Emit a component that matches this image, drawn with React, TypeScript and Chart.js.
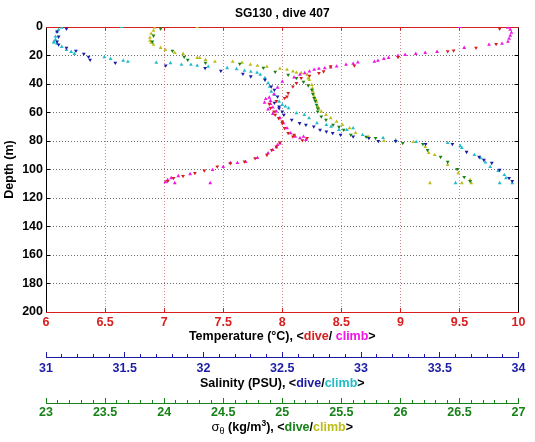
import React, { useEffect, useRef } from 'react';
import { Chart, registerables } from 'chart.js';

Chart.register(...registerables);

const FONT = "'Liberation Sans', Arial, Helvetica, sans-serif";
const RED = '#d81e1e';
const MAGENTA = '#f014e6';
const BLUE = '#1c1ca6';
const CYAN = '#20bcc8';
const GREEN = '#178217';
const YELLOW = '#bdbd17';
const BLACK = '#000000';

const TITLE = 'SG130 , dive 407';
const Y_TITLE = 'Depth (m)';

// Tick values
const depthTicks = [0, 20, 40, 60, 80, 100, 120, 140, 160, 180, 200];
const tempTicks = [6, 6.5, 7, 7.5, 8, 8.5, 9, 9.5, 10];
const salTicks = [31, 31.5, 32, 32.5, 33, 33.5, 34];
const denTicks = [23, 23.5, 24, 24.5, 25, 25.5, 26, 26.5, 27];

// Temperature (°C) — dive
const tempDiveDepth = [1.2, 12.0, 14.6, 16.5, 17.0, 21.1, 27.0, 27.7, 31.2, 32.3, 34.2, 35.9, 39.4, 41.8, 46.4, 48.8, 49.9, 52.0, 54.0, 56.8, 59.4, 61.7, 64.0, 66.4, 67.5, 71.0, 74.5, 75.7, 76.9, 77.9, 79.5, 81.1, 84.0, 86.3, 89.8, 92.1, 94.5, 95.6, 98.0, 100.8, 102.5, 104.6, 106.0, 108.1];
const tempDive = [9.84, 9.81, 9.64, 9.45, 9.40, 8.98, 8.61, 8.41, 8.35, 8.31, 8.23, 8.16, 8.12, 8.09, 8.05, 8.04, 8.02, 7.95, 7.89, 7.90, 7.93, 7.94, 7.97, 8.00, 8.00, 8.02, 8.05, 8.10, 8.09, 8.21, 8.17, 7.98, 7.95, 7.91, 7.87, 7.77, 7.68, 7.56, 7.45, 7.34, 7.26, 7.16, 7.08, 7.03];

// Temperature (°C) — climb
const tempClimbDepth = [0, 0.5, 1.9, 4.0, 6.1, 8.2, 10.3, 11.7, 12.4, 14.6, 17.4, 18.1, 18.8, 19.5, 20.2, 21.6, 22.3, 23.7, 24.4, 24.9, 25.8, 26.5, 27.7, 28.4, 28.9, 29.3, 30.0, 31.2, 32.3, 33.5, 35.4, 38.3, 42.5, 47.1, 49.5, 50.5, 51.8, 53.0, 54.0, 56.5, 57.8, 59.3, 61.0, 63.9, 67.5, 71.0, 74.5, 76.9, 78.0, 76.9, 79.3, 81.6, 82.8, 84.4, 86.3, 88.6, 91.9, 94.7, 95.4, 95.4, 98.2, 100.3, 103.2, 104.6, 106.0, 107.4, 108.8, 109.5, 109.5];
const tempClimb = [9.50, 9.91, 9.93, 9.94, 9.93, 9.92, 9.91, 9.86, 9.75, 9.54, 9.31, 9.21, 9.13, 9.04, 8.98, 8.90, 8.86, 8.81, 8.78, 8.64, 8.60, 8.54, 8.46, 8.41, 8.36, 8.31, 8.27, 8.23, 8.19, 8.15, 8.10, 8.00, 7.96, 7.93, 7.89, 7.86, 7.90, 7.85, 7.90, 7.92, 7.88, 7.95, 7.92, 7.98, 8.01, 8.04, 8.07, 8.11, 8.15, 8.18, 8.20, 7.98, 7.96, 7.95, 7.92, 7.88, 7.79, 7.69, 7.62, 7.56, 7.50, 7.41, 7.22, 7.12, 7.06, 7.03, 7.01, 7.09, 7.39];

// Salinity (PSU) — dive
const salDiveDepth = [1.2, 3.3, 6.8, 10.3, 12.4, 14.6, 16.7, 18.8, 20.9, 23.0, 25.1, 27.0, 28.8, 30.7, 32.8, 34.7, 37.1, 41.8, 44.1, 48.8, 53.2, 55.8, 57.0, 59.4, 61.7, 65.2, 67.5, 68.7, 69.9, 72.2, 73.4, 74.5, 75.7, 76.9, 77.9, 80.0, 80.0, 82.1, 82.1, 87.7, 91.2, 93.3, 95.4, 100.3, 106.0, 108.1];
const salDive = [31.13, 31.07, 31.08, 31.07, 31.08, 31.13, 31.19, 31.24, 31.27, 31.28, 31.44, 31.76, 32.01, 32.11, 32.25, 32.30, 32.39, 32.43, 32.45, 32.47, 32.45, 32.48, 32.48, 32.50, 32.51, 32.56, 32.61, 32.65, 32.70, 32.74, 32.78, 32.82, 32.87, 32.95, 33.05, 33.11, 33.22, 33.41, 33.58, 33.67, 33.75, 33.78, 33.83, 33.88, 33.94, 33.96];

// Salinity (PSU) — climb
const salClimbDepth = [0, 0.5, 1.9, 3.3, 6.8, 8.9, 10.3, 11.0, 11.7, 13.9, 16.0, 17.4, 18.8, 21.1, 22.3, 23.7, 24.4, 25.1, 25.3, 26.5, 26.5, 27.2, 27.9, 28.8, 29.5, 30.7, 31.4, 32.1, 33.5, 35.7, 39.4, 41.8, 45.3, 47.6, 52.3, 54.6, 55.8, 57.0, 60.5, 61.7, 64.0, 67.5, 68.7, 69.9, 72.2, 72.2, 71.0, 75.7, 77.9, 79.5, 80.7, 81.4, 83.5, 84.9, 89.8, 92.0, 95.0, 98.2, 101.0, 103.8, 106.0, 109.5, 109.5, 109.5];
const salClimb = [31.48, 31.10, 31.08, 31.07, 31.06, 31.06, 31.05, 31.05, 31.07, 31.10, 31.13, 31.16, 31.18, 31.37, 31.41, 31.49, 31.52, 31.70, 31.79, 31.86, 31.92, 31.96, 32.03, 32.15, 32.21, 32.26, 32.30, 32.34, 32.36, 32.39, 32.41, 32.42, 32.43, 32.45, 32.48, 32.50, 32.52, 32.54, 32.59, 32.64, 32.67, 32.72, 32.78, 32.81, 32.86, 32.91, 32.95, 33.01, 33.14, 33.22, 33.35, 33.55, 33.63, 33.64, 33.72, 33.76, 33.79, 33.82, 33.87, 33.91, 33.92, 33.96, 33.88, 33.60];

// Sigma-theta (kg/m3) — dive
const denDiveDepth = [1.2, 6.1, 10.3, 16.7, 20.9, 23.0, 25.1, 25.8, 28.6, 31.4, 33.5, 35.9, 38.5, 41.0, 44.1, 47.0, 49.9, 52.0, 54.6, 57.0, 59.4, 62.9, 65.2, 68.7, 70.1, 72.2, 75.7, 77.1, 77.9, 81.4, 82.1, 86.3, 91.2, 94.7, 99.7, 105.3, 108.1];
const denDive = [23.97, 23.91, 23.90, 24.07, 24.17, 24.20, 24.35, 24.64, 24.84, 24.94, 25.05, 25.12, 25.18, 25.22, 25.25, 25.26, 25.27, 25.28, 25.29, 25.30, 25.30, 25.33, 25.37, 25.43, 25.48, 25.52, 25.58, 25.71, 25.79, 26.02, 26.19, 26.23, 26.34, 26.40, 26.48, 26.54, 26.59];

// Sigma-theta (kg/m3) — climb
const denClimbDepth = [0, 0.5, 2.6, 4.7, 7.5, 9.6, 11.0, 12.4, 14.6, 16.0, 18.1, 18.8, 21.6, 21.6, 23.0, 24.4, 24.4, 25.1, 26.5, 27.2, 27.9, 29.3, 30.0, 31.2, 32.1, 32.3, 33.5, 36.0, 37.1, 40.6, 43.0, 45.3, 48.8, 50.5, 52.3, 55.8, 57.5, 59.4, 61.7, 64.0, 66.4, 68.7, 71.0, 74.3, 77.1, 80.0, 80.0, 80.7, 84.2, 88.4, 89.8, 96.8, 102.5, 107.3, 109.5, 109.5, 109.5];
const denClimb = [24.28, 23.92, 23.91, 23.89, 23.88, 23.88, 23.89, 23.91, 23.97, 24.01, 24.09, 24.16, 24.28, 24.30, 24.35, 24.43, 24.58, 24.66, 24.73, 24.79, 24.87, 24.98, 25.04, 25.09, 25.12, 25.16, 25.21, 25.22, 25.23, 25.25, 25.255, 25.26, 25.27, 25.28, 25.29, 25.30, 25.31, 25.33, 25.37, 25.41, 25.46, 25.51, 25.57, 25.62, 25.73, 25.86, 25.96, 26.11, 26.21, 26.24, 26.29, 26.40, 26.49, 26.59, 26.60, 26.25, 26.52];

const pairs = (depths: number[], vals: number[]) =>
  depths.map((d, i) => ({ x: vals[i], y: d }));

const setTicks = (values: number[]) => (scale: any) => {
  scale.ticks = values.map((value) => ({ value }));
};

type Seg = { text: string; color?: string; size?: number; dy?: number; weight?: string };

function drawSegments(ctx: CanvasRenderingContext2D, cx: number, y: number, segs: Seg[], base: number) {
  const fontOf = (s: Seg) => `${s.weight ?? 'bold'} ${s.size ?? base}px ${FONT}`;
  let total = 0;
  for (const s of segs) {
    ctx.font = fontOf(s);
    total += ctx.measureText(s.text).width;
  }
  let x = cx - total / 2;
  ctx.textAlign = 'left';
  ctx.textBaseline = 'alphabetic';
  for (const s of segs) {
    ctx.font = fontOf(s);
    ctx.fillStyle = s.color ?? BLACK;
    ctx.fillText(s.text, x, y + (s.dy ?? 0));
    x += ctx.measureText(s.text).width;
  }
}

const titlesPlugin = {
  id: 'multiColorTitles',
  afterDraw(chart: any) {
    const ctx: CanvasRenderingContext2D = chart.ctx;
    const { left, right, top } = chart.chartArea;
    const cx = (left + right) / 2;
    ctx.save();
    drawSegments(ctx, cx, top - 10, [{ text: TITLE }], 12);
    const sx = chart.scales.x;
    drawSegments(ctx, cx, sx.bottom - 17.5, [
      { text: 'Temperature (°C), <' },
      { text: 'dive', color: RED },
      { text: '/ ' },
      { text: 'climb', color: MAGENTA },
      { text: '>' },
    ], 12.5);
    const ss = chart.scales.xs;
    drawSegments(ctx, cx, ss.bottom - 16, [
      { text: 'Salinity (PSU), <' },
      { text: 'dive', color: BLUE },
      { text: '/' },
      { text: 'climb', color: CYAN },
      { text: '>' },
    ], 12.5);
    const sd = chart.scales.xd;
    drawSegments(ctx, cx, sd.bottom - 11, [
      { text: 'σ', weight: 'normal', size: 13 },
      { text: 'θ', weight: 'normal', size: 9, dy: 3 },
      { text: ' (kg/m' },
      { text: '3', size: 8.5, dy: -5 },
      { text: '), <' },
      { text: 'dive', color: GREEN },
      { text: '/' },
      { text: 'climb', color: YELLOW },
      { text: '>' },
    ], 12.5);
    ctx.restore();
  },
};

const tickFont = { family: FONT, size: 12.5, weight: 'bold' as const };
const vGrid = 'rgba(185,95,95,0.75)';
const hGrid = 'rgba(60,60,60,0.75)';

export default function App() {
  const ref = useRef<HTMLCanvasElement>(null);

  useEffect(() => {
    if (!ref.current) return;
    const mk = (label: string, data: any[], axis: string, color: string, dive: boolean) => ({
      label,
      data,
      xAxisID: axis,
      yAxisID: 'y',
      showLine: false,
      pointStyle: 'triangle',
      pointRotation: dive ? 180 : 0,
      pointRadius: 2.2,
      pointHoverRadius: 2.2,
      pointBackgroundColor: color,
      pointBorderColor: color,
      pointBorderWidth: 0,
    });

    const chart = new Chart(ref.current, {
      type: 'scatter',
      data: {
        datasets: [
          mk('Temperature dive', pairs(tempDiveDepth, tempDive), 'x', RED, true),
          mk('Temperature climb', pairs(tempClimbDepth, tempClimb), 'x', MAGENTA, false),
          mk('Salinity dive', pairs(salDiveDepth, salDive), 'xs', BLUE, true),
          mk('Salinity climb', pairs(salClimbDepth, salClimb), 'xs', CYAN, false),
          mk('Density dive', pairs(denDiveDepth, denDive), 'xd', GREEN, true),
          mk('Density climb', pairs(denClimbDepth, denClimb), 'xd', YELLOW, false),
        ] as any,
      },
      options: {
        animation: false,
        responsive: false,
        devicePixelRatio: 1,
        layout: { padding: { top: 27, left: 0, right: 12, bottom: 0 } },
        plugins: { legend: { display: false }, title: { display: false }, tooltip: { enabled: false } },
        scales: {
          y: {
            type: 'linear',
            position: 'left',
            reverse: true,
            min: 0,
            max: 200,
            afterBuildTicks: setTicks(depthTicks),
            afterFit: (s: any) => { s.width = 46; },
            ticks: { color: BLACK, font: tickFont, padding: 7, autoSkip: false, callback: (v: any) => String(v) },
            grid: {
              color: (c: any) => (c.tick && (c.tick.value === 0 || c.tick.value === 200) ? 'rgba(0,0,0,0)' : hGrid),
              tickColor: BLACK,
              tickLength: -4,
              lineWidth: 1,
            },
            border: { color: BLACK, dash: [1, 2] },
            title: { display: true, text: Y_TITLE, color: BLACK, font: { family: FONT, size: 12.5, weight: 'bold' }, padding: { top: 2, bottom: 0 } },
          },
          yRight: {
            type: 'linear',
            position: 'right',
            reverse: true,
            min: 0,
            max: 200,
            afterBuildTicks: setTicks(depthTicks),
            afterFit: (s: any) => { s.width = 0; },
            ticks: { display: false },
            grid: { drawOnChartArea: false, tickColor: BLACK, tickLength: -4 },
            border: { color: BLACK },
          },
          xTop: {
            type: 'linear',
            position: 'top',
            min: 6,
            max: 10,
            afterBuildTicks: setTicks(tempTicks),
            afterFit: (s: any) => { s.height = 0; },
            ticks: { display: false },
            grid: { drawOnChartArea: false, tickColor: RED, tickLength: -4 },
            border: { color: RED },
          },
          x: {
            type: 'linear',
            position: 'bottom',
            weight: 0,
            min: 6,
            max: 10,
            afterBuildTicks: setTicks(tempTicks),
            afterFit: (s: any) => { s.height = 45; },
            ticks: { color: RED, font: tickFont, padding: 7, autoSkip: false, maxRotation: 0, callback: (v: any) => String(v) },
            grid: {
              color: (c: any) => (c.tick && (c.tick.value === 6 || c.tick.value === 10) ? 'rgba(0,0,0,0)' : vGrid),
              tickColor: RED,
              tickLength: -4,
              lineWidth: 1,
            },
            border: { color: RED, dash: [1, 2] },
          },
          xsMinor: {
            type: 'linear',
            position: 'bottom',
            weight: 1,
            min: 31,
            max: 34,
            afterFit: (s: any) => { s.height = 0; },
            ticks: { display: false, stepSize: 0.1, autoSkip: false },
            grid: { drawOnChartArea: false, color: BLUE, tickColor: BLUE, tickLength: -3 },
            border: { color: BLUE },
          },
          xs: {
            type: 'linear',
            position: 'bottom',
            weight: 2,
            min: 31,
            max: 34,
            afterBuildTicks: setTicks(salTicks),
            afterFit: (s: any) => { s.height = 46; },
            ticks: { color: BLUE, font: tickFont, padding: 9.5, autoSkip: false, maxRotation: 0, callback: (v: any) => String(v) },
            grid: { drawOnChartArea: false, color: BLUE, tickColor: BLUE, tickLength: -5 },
            border: { color: BLUE },
          },
          xdMinor: {
            type: 'linear',
            position: 'bottom',
            weight: 3,
            min: 23,
            max: 27,
            afterFit: (s: any) => { s.height = 0; },
            ticks: { display: false, stepSize: 0.1, autoSkip: false },
            grid: { drawOnChartArea: false, color: GREEN, tickColor: GREEN, tickLength: -3 },
            border: { color: GREEN },
          },
          xd: {
            type: 'linear',
            position: 'bottom',
            weight: 4,
            min: 23,
            max: 27,
            afterBuildTicks: setTicks(denTicks),
            afterFit: (s: any) => { s.height = 39; },
            ticks: { color: GREEN, font: tickFont, padding: 7.3, autoSkip: false, maxRotation: 0, callback: (v: any) => String(v) },
            grid: { drawOnChartArea: false, color: GREEN, tickColor: GREEN, tickLength: -5 },
            border: { color: GREEN },
          },
        } as any,
      },
      plugins: [titlesPlugin],
    });
    return () => chart.destroy();
  }, []);

  return (
    <div style={{ position: 'absolute', left: 0, top: 0, width: 535, height: 442, background: '#fff' }}>
      <canvas ref={ref} width={535} height={442} style={{ display: 'block', width: 535, height: 442 }} />
    </div>
  );
}
